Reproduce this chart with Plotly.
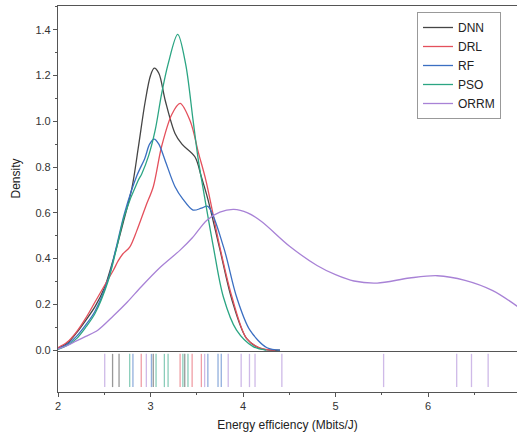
import plotly.graph_objects as go

# ---------------- data ----------------
names = ["DNN", "DRL", "RF", "PSO", "ORRM"]
colors = ["#454545", "#e4505c", "#3b6fc2", "#2ba583", "#a882d6"]

dnn_x = [2.0, 2.1, 2.2, 2.3, 2.4, 2.5, 2.6, 2.7, 2.8, 2.87, 2.94, 3.0, 3.04, 3.09, 3.16, 3.265, 3.34, 3.48, 3.55, 3.62, 3.75, 3.88, 4.04, 4.2, 4.4]
dnn_y = [0.008, 0.03, 0.075, 0.13, 0.19, 0.27, 0.40, 0.55, 0.71, 0.89, 1.08, 1.2, 1.232, 1.21, 1.09, 0.947, 0.90, 0.845, 0.757, 0.66, 0.44, 0.22, 0.05, 0.005, 0.0]

drl_x = [2.0, 2.1, 2.2, 2.3, 2.4, 2.5, 2.6, 2.65, 2.7, 2.775, 2.85, 2.95, 3.03, 3.12, 3.23, 3.32, 3.43, 3.52, 3.6, 3.75, 3.88, 4.04, 4.18, 4.35]
drl_y = [0.01, 0.035, 0.08, 0.14, 0.21, 0.28, 0.35, 0.39, 0.42, 0.45, 0.52, 0.63, 0.714, 0.89, 1.03, 1.078, 1.0, 0.86, 0.74, 0.45, 0.233, 0.05, 0.01, 0.0]

rf_x = [2.0, 2.1, 2.2, 2.3, 2.4, 2.54, 2.63, 2.72, 2.85, 2.94, 2.99, 3.04, 3.09, 3.157, 3.265, 3.35, 3.46, 3.55, 3.62, 3.79, 3.93, 4.075, 4.26, 4.4]
rf_y = [0.005, 0.025, 0.06, 0.11, 0.17, 0.306, 0.45, 0.6, 0.76, 0.84, 0.9, 0.922, 0.9, 0.83, 0.714, 0.66, 0.612, 0.62, 0.628, 0.45, 0.233, 0.087, 0.01, 0.0]

pso_x = [2.0, 2.1, 2.2, 2.3, 2.4, 2.54, 2.63, 2.72, 2.865, 2.905, 2.98, 3.05, 3.12, 3.19, 3.294, 3.38, 3.46, 3.517, 3.553, 3.68, 3.787, 3.93, 4.11, 4.25]
pso_y = [0.003, 0.02, 0.05, 0.10, 0.16, 0.30, 0.44, 0.59, 0.74, 0.77, 0.85, 0.96, 1.12, 1.25, 1.38, 1.25, 1.005, 0.83, 0.743, 0.45, 0.233, 0.087, 0.015, 0.0]

orrm_x = [2.0, 2.1, 2.2, 2.3, 2.43, 2.6, 2.75, 2.9, 3.1, 3.32, 3.45, 3.61, 3.75, 3.9, 4.05, 4.2, 4.5, 4.8, 5.0, 5.2, 5.45, 5.8, 6.1, 6.4, 6.7, 6.97]
orrm_y = [0.005, 0.02, 0.04, 0.06, 0.087, 0.15, 0.21, 0.277, 0.36, 0.437, 0.49, 0.568, 0.603, 0.615, 0.60, 0.562, 0.455, 0.37, 0.33, 0.302, 0.293, 0.315, 0.325, 0.305, 0.26, 0.19]

# rug (individual samples)
rug_dnn = [2.59, 2.66, 3.03, 3.37]
rug_drl = [2.90, 3.32, 3.45, 3.55]
rug_rf = [2.81, 3.01, 3.62, 3.73, 3.765]
rug_pso = [2.775, 3.06, 3.15, 3.19, 3.35, 3.405]
rug_orrm = [2.505, 2.955, 3.585, 3.84, 3.98, 4.07, 4.13, 4.42, 5.52, 6.31, 6.47, 6.65]

y_ticks = [0.0, 0.2, 0.4, 0.6, 0.8, 1.0, 1.2, 1.4]
x_ticks = [2, 3, 4, 5, 6]

curves = [(dnn_x, dnn_y), (drl_x, drl_y), (rf_x, rf_y), (pso_x, pso_y), (orrm_x, orrm_y)]
rugs = [rug_dnn, rug_drl, rug_rf, rug_pso, rug_orrm]

# ---------------- figure ----------------
fig = go.Figure()
for name, col, (cx, cy) in zip(names, colors, curves):
    fig.add_trace(go.Scatter(x=cx, y=cy, mode="lines", name=name,
                             line=dict(color=col, width=1.3, shape="spline", smoothing=0.9),
                             xaxis="x", yaxis="y"))

RUG_LO, RUG_HI = 0.12, 0.93
for name, col, vals in zip(names, colors, rugs):
    rx, ry = [], []
    for v in vals:
        rx += [v, v, None]
        ry += [RUG_LO, RUG_HI, None]
    fig.add_trace(go.Scatter(x=rx, y=ry, mode="lines", showlegend=False,
                             line=dict(color=col, width=1.3), opacity=0.55,
                             xaxis="x2", yaxis="y2", hoverinfo="skip"))

XR = [2.0, 6.962]
split = (392 - 351) / 386
axis_col = "#555555"
tick_font = dict(family="Liberation Sans, Arial, sans-serif", size=11, color="#333333")

fig.update_layout(
    width=517, height=438,
    margin=dict(l=58, r=0, t=6, b=46),
    paper_bgcolor="white", plot_bgcolor="white",
    font=dict(family="Liberation Sans, Arial, sans-serif", size=12, color="#222222"),
    showlegend=True,
    legend=dict(x=(417 - 58) / 459, y=(392 - 12) / 386, xanchor="left", yanchor="top",
                bgcolor="white", bordercolor="#999999", borderwidth=1,
                font=dict(size=12, color="#222222"), itemwidth=30,
                tracegroupgap=0),
    xaxis=dict(domain=[0, 1], range=XR, anchor="y", showline=True, mirror=True,
               linecolor=axis_col, linewidth=1.2, showticklabels=False, ticks="",
               showgrid=False, zeroline=False),
    yaxis=dict(domain=[split, 1], range=[-0.004, 1.504], anchor="x", showline=True,
               linecolor=axis_col, linewidth=1.2, ticks="outside", ticklen=4,
               tickcolor=axis_col, tickvals=y_ticks,
               ticktext=[f"{v:.1f}" for v in y_ticks], tickfont=tick_font,
               minor=dict(dtick=0.1, ticks="outside", ticklen=2, tickcolor=axis_col),
               showgrid=False, zeroline=False,
               title=dict(text="Density", font=dict(size=12, color="#222222"), standoff=12)),
    xaxis2=dict(domain=[0, 1], range=XR, anchor="y2", matches="x", showline=True,
                linecolor=axis_col, linewidth=1.2, ticks="outside", ticklen=4,
                tickcolor=axis_col, tickvals=x_ticks, ticktext=[str(v) for v in x_ticks],
                tickfont=tick_font,
                minor=dict(dtick=0.5, ticks="outside", ticklen=2, tickcolor=axis_col),
                showgrid=False, zeroline=False,
                title=dict(text="Energy efficiency (Mbits/J)", font=dict(size=12, color="#222222"), standoff=9)),
    yaxis2=dict(domain=[0, split], range=[0, 1], anchor="x2", showline=True,
                linecolor=axis_col, linewidth=1.2, showticklabels=False, ticks="",
                showgrid=False, zeroline=False),
)

fig.write_html("out.html")
